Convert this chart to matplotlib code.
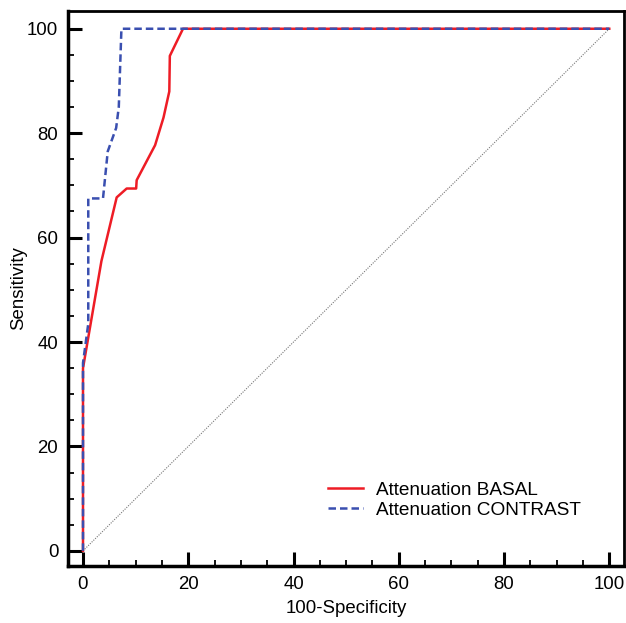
import matplotlib
matplotlib.use("Agg")
import matplotlib.pyplot as plt
from matplotlib.ticker import MultipleLocator

plt.rcParams['font.family'] = ['Liberation Sans', 'DejaVu Sans']

# Data
basal_x = [0, 0, 3.5, 6.4, 8.3, 10.1, 10.2, 13.7, 15.3, 16.4, 16.5, 19.0, 100]
basal_y = [0, 35, 55.5, 67.7, 69.4, 69.4, 71.0, 77.7, 83.0, 88.0, 94.8, 100, 100]

contrast_x = [0, 0, 1.0, 1.0, 3.8, 4.7, 6.3, 6.8, 7.3, 100]
contrast_y = [0, 36, 43.5, 67.5, 67.5, 76.5, 81.0, 85.0, 100, 100]

diag = [0, 100]
labels = ["Attenuation BASAL", "Attenuation CONTRAST"]
ticks = [0, 20, 40, 60, 80, 100]

fig = plt.figure(figsize=(6.26, 6.23), dpi=100)
ax = fig.add_axes([68/626, 1-566/623, (624-68)/626, (566-11)/623])

ax.plot(diag, diag, color='#777777', lw=0.8, ls=(0, (1, 1.2)), zorder=1)
ax.plot(basal_x, basal_y, color='#ee1c25', lw=1.8, label=labels[0], zorder=2)
ax.plot(contrast_x, contrast_y, color='#3a4fb0', lw=1.8, ls=(0, (3, 1.6)), label=labels[1], zorder=3)

ax.set_xlim(-2.85, 102.8)
ax.set_ylim(-2.9, 103.4)
ax.set_xticks(ticks)
ax.set_yticks(ticks)
ax.xaxis.set_minor_locator(MultipleLocator(5))
ax.yaxis.set_minor_locator(MultipleLocator(5))
ax.tick_params(which='major', direction='in', length=10, width=2.2, labelsize=13.4, pad=7, color='black')
ax.tick_params(which='minor', direction='in', length=4, width=1.3, color='black')
ax.tick_params(top=False, right=False)
for s in ['left', 'bottom']:
    ax.spines[s].set_linewidth(2.5)
for s in ['top', 'right']:
    ax.spines[s].set_linewidth(2.0)

ax.set_xlabel("100-Specificity", fontsize=13.4, labelpad=5)
ax.set_ylabel("Sensitivity", fontsize=13.4, labelpad=0)

ax.legend(loc='upper left', bbox_to_anchor=(0.467, 0.152), frameon=False, fontsize=13.7,
          handlelength=1.85, handletextpad=0.67, labelspacing=0.15, borderaxespad=0, borderpad=0)

fig.savefig("out.png", dpi=100)
